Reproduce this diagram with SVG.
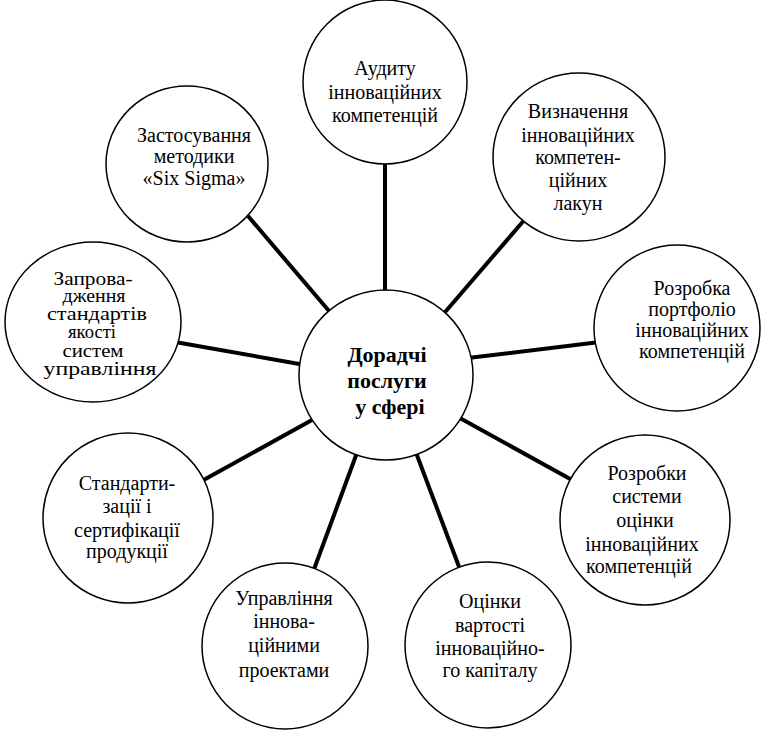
<svg xmlns="http://www.w3.org/2000/svg" width="762" height="730" viewBox="0 0 762 730">
  <style>
    .bg { fill: #ffffff; }
    .node { fill: #ffffff; stroke: #000000; stroke-width: 1.5; }
    .link { stroke: #000000; stroke-width: 4; stroke-linecap: butt; fill: none; }
    .lbl { font-family: "Liberation Serif", "Times New Roman", serif; font-size: 20px; fill: #000000; text-anchor: middle; }
    .dense { font-size: 19px; }
    .hub { font-family: "Liberation Serif", "Times New Roman", serif; font-size: 22px; font-weight: bold; fill: #000000; text-anchor: middle; }
  </style>
  <rect class="bg" x="0" y="0" width="762" height="730"/>

  <!-- spokes from the hub to each service circle -->
  <g id="connectors">
    <line class="link" x1="385" y1="160" x2="385" y2="296"/>
    <line class="link" x1="526" y1="218" x2="440" y2="318"/>
    <line class="link" x1="600" y1="342" x2="468" y2="358"/>
    <line class="link" x1="572" y1="480" x2="458" y2="417"/>
    <line class="link" x1="461" y1="572" x2="415" y2="450"/>
    <line class="link" x1="313" y1="572" x2="358" y2="450"/>
    <line class="link" x1="200" y1="482" x2="312" y2="420"/>
    <line class="link" x1="175" y1="342" x2="305" y2="365"/>
    <line class="link" x1="248" y1="216" x2="335" y2="318"/>
  </g>

  <g id="hub">
    <ellipse class="node" cx="386" cy="375" rx="87" ry="85"/>
    <text class="hub" x="387" y="362">Дорадчі</text>
    <text class="hub" x="387" y="388">послуги</text>
    <text class="hub" x="390" y="414">у сфері</text>
  </g>

  <g id="audit">
    <circle class="node" cx="385" cy="82" r="82"/>
    <text class="lbl" x="385" y="75">Аудиту</text>
    <text class="lbl" x="385" y="99">інноваційних</text>
    <text class="lbl" x="385" y="122">компетенцій</text>
  </g>

  <g id="gaps">
    <ellipse class="node" cx="579" cy="157" rx="86" ry="84"/>
    <text class="lbl" x="578" y="118">Визначення</text>
    <text class="lbl" x="578" y="142">інноваційних</text>
    <text class="lbl" x="578" y="164">компетен-</text>
    <text class="lbl" x="578" y="187">ційних</text>
    <text class="lbl" x="578" y="210">лакун</text>
  </g>

  <g id="portfolio">
    <circle class="node" cx="677" cy="328" r="83"/>
    <text class="lbl" x="692" y="295">Розробка</text>
    <text class="lbl" x="692" y="316">портфоліо</text>
    <text class="lbl" x="692" y="337">інноваційних</text>
    <text class="lbl" x="692" y="358">компетенцій</text>
  </g>

  <g id="assessment-system">
    <circle class="node" cx="645" cy="520" r="85"/>
    <text class="lbl" x="647" y="480">Розробки</text>
    <text class="lbl" x="647" y="503">системи</text>
    <text class="lbl" x="645" y="527">оцінки</text>
    <text class="lbl" x="642" y="551">інноваційних</text>
    <text class="lbl" x="639" y="573">компетенцій</text>
  </g>

  <g id="capital-value">
    <circle class="node" cx="488" cy="645" r="83"/>
    <text class="lbl" x="490" y="608">Оцінки</text>
    <text class="lbl" x="490" y="632">вартості</text>
    <text class="lbl" x="490" y="655">інноваційно-</text>
    <text class="lbl" x="490" y="677">го капіталу</text>
  </g>

  <g id="projects">
    <circle class="node" cx="285" cy="646" r="83"/>
    <text class="lbl" x="284" y="605">Управління</text>
    <text class="lbl" x="284" y="628">іннова-</text>
    <text class="lbl" x="284" y="652">ційними</text>
    <text class="lbl" x="284" y="677">проектами</text>
  </g>

  <g id="certification">
    <circle class="node" cx="128" cy="518" r="85"/>
    <text class="lbl" x="127" y="490">Стандарти-</text>
    <text class="lbl" x="127" y="513">зації і</text>
    <text class="lbl" x="127" y="537">сертифікації</text>
    <text class="lbl" x="127" y="558">продукції</text>
  </g>

  <!-- six lines set tight, glyphs widened to fill the circle -->
  <g id="quality-standards">
    <ellipse class="node" cx="93" cy="322" rx="88" ry="80"/>
    <text class="lbl dense" x="93" y="285" textLength="79" lengthAdjust="spacingAndGlyphs">Запрова-</text>
    <text class="lbl dense" x="94" y="302" textLength="63" lengthAdjust="spacingAndGlyphs">дження</text>
    <text class="lbl dense" x="97" y="320" textLength="100" lengthAdjust="spacingAndGlyphs">стандартів</text>
    <text class="lbl dense" x="92" y="338" textLength="48" lengthAdjust="spacingAndGlyphs">якості</text>
    <text class="lbl dense" x="93" y="357" textLength="61" lengthAdjust="spacingAndGlyphs">систем</text>
    <text class="lbl dense" x="100" y="375" textLength="113" lengthAdjust="spacingAndGlyphs">управління</text>
  </g>

  <g id="six-sigma">
    <ellipse class="node" cx="187" cy="164" rx="81" ry="78"/>
    <text class="lbl" x="194" y="142">Застосування</text>
    <text class="lbl" x="194" y="163">методики</text>
    <text class="lbl" x="194" y="185">«Six Sigma»</text>
  </g>
</svg>
